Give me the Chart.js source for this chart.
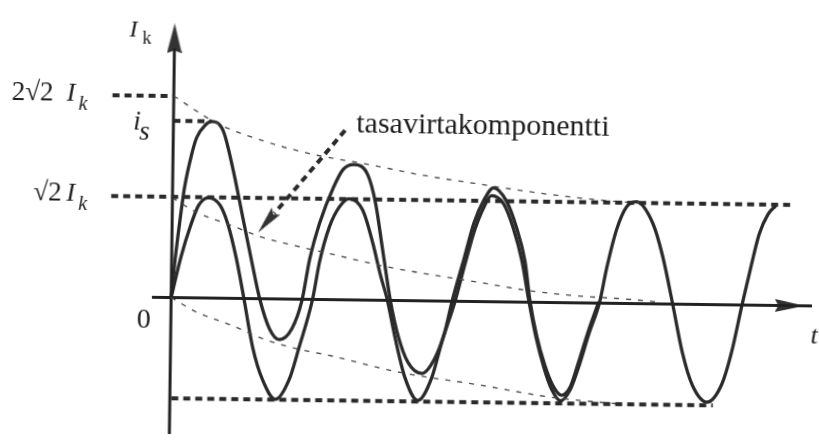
<!DOCTYPE html>
<html>
<head>
<meta charset="utf-8">
<script src="https://cdn.jsdelivr.net/npm/chart.js@4.4.1/dist/chart.umd.min.js"></script>
<style>
  html, body { margin: 0; padding: 0; background: #fff; overflow: hidden; }
  #wrap { width: 819px; height: 441px; overflow: hidden; }
  /* the printed figure sits slightly skewed on the page */
  #chart { display: block; transform-origin: 167px 300px; transform: rotate(0.75deg); }
</style>
</head>
<body>
<div id="wrap"><canvas id="chart" width="819" height="441"></canvas></div>
<script>
// time in ms (50 Hz), current in multiples of Ik

// symmetric short-circuit current
const symTime = [0, 1.30, 2.62, 3.69, 5.06, 6.73, 7.86, 9.03, 10.21, 11.54, 12.98, 14.81, 16.71, 18.03,
  19.86, 20.76, 22.07, 23.42, 24.78, 26.73, 28.17, 29.34, 30.35, 31.53, 32.98, 34.81, 36.70, 38.02,
  39.87, 41.18, 42.49, 43.69, 44.78, 46.45, 47.87, 49.17, 50.21, 51.24, 52.41, 53.55, 54.81, 56.17,
  57.37, 58.69, 60.14, 61.05, 62.36, 63.69, 65.06, 67.45, 68.89, 70.36, 71.83, 73.27, 75.37, 77.40,
  78.72, 80.15, 81.32, 82.40, 83.60, 84.66];
const symCurrent = [0, 0.57, 1.02, 1.30, 1.41, 1.30, 1.03, 0.58, 0, -0.69, -1.14, -1.41, -1.13, -0.68,
  0.01, 0.53, 1.02, 1.30, 1.42, 1.26, 0.81, 0.35, 0, -0.54, -1.09, -1.40, -1.08, -0.59,
  0.01, 0.53, 1.01, 1.32, 1.49, 1.38, 1.04, 0.57, 0.01, -0.48, -0.91, -1.22, -1.38, -1.22,
  -0.88, -0.43, 0.02, 0.49, 1.03, 1.35, 1.43, 1.13, 0.67, 0.01, -0.68, -1.13, -1.37, -1.12,
  -0.67, 0.02, 0.55, 1.00, 1.28, 1.40];

// asymmetric current (sine + decaying dc part)
const asymTime = [0, 0.45, 1.05, 1.68, 2.63, 3.29, 4.51, 5.33, 7.00, 8.45, 9.92, 11.39, 12.42, 13.85,
  15.25, 17.02, 18.35, 19.38, 20.69, 22.55, 23.90, 25.41, 27.36, 28.51, 29.57, 30.76, 31.93, 33.36,
  35.31, 37.08, 38.41, 39.45, 41.03, 42.34, 43.68, 45.04, 46.85, 48.28, 49.59, 50.35, 51.38, 52.54,
  53.68, 54.94, 56.17, 57.23, 58.55, 60.01];
const asymCurrent = [0, 0.50, 1.05, 1.55, 2.02, 2.25, 2.43, 2.48, 2.35, 1.81, 1.13, 0.45, 0, -0.42,
  -0.57, -0.41, -0.02, 0.57, 1.07, 1.57, 1.83, 1.90, 1.76, 1.36, 0.72, 0, -0.50, -0.87,
  -1.02, -0.81, -0.45, 0.01, 0.60, 1.10, 1.42, 1.60, 1.42, 1.06, 0.57, 0.02, -0.48, -0.88,
  -1.16, -1.30, -1.18, -0.85, -0.41, 0.02];

// envelopes and the dc component (thin dashed)
const upperTime = [0, 6.02, 12.54, 19.46, 27.75, 34.67, 42.96, 49.46, 55.40, 62.30, 66.0];
const upperCurrent = [2.83, 2.46, 2.22, 2.04, 1.90, 1.77, 1.65, 1.56, 1.49, 1.43, 1.41];
const dcTime = [0, 3.43, 8.14, 12.72, 18.25, 22.40, 30.29, 43.14, 49.64, 56.55, 62.48, 68.0];
const dcCurrent = [1.40, 1.20, 1.03, 0.86, 0.73, 0.64, 0.47, 0.27, 0.17, 0.10, 0.07, 0.03];
const lowerTime = [0, 3.61, 8.33, 12.90, 17.47, 22.59, 32.28, 43.34, 53.43, 58.95, 63.0];
const lowerCurrent = [0, -0.20, -0.37, -0.56, -0.69, -0.79, -1.01, -1.17, -1.33, -1.38, -1.41];

// reference levels: 2√2·Ik, is (peak of the asymmetric current), √2·Ik, -√2·Ik
const peakIs = Math.max(...asymCurrent);
const levelValue = [2 * Math.SQRT2, peakIs, Math.SQRT2, -Math.SQRT2];
const levelFrom = [-8.6, 0, -8.6, 0.2];
const levelTo = [0, asymTime[asymCurrent.indexOf(peakIs)], 86.9, 76.2];

const ink = '#2a2a2a';

// first serif face that is really installed
function pickSerif() {
  const g = document.createElement('canvas').getContext('2d');
  const probe = 'tasavirtakomponentti 2\u221A2 Ik';
  g.font = '30px monospace';
  const base = g.measureText(probe).width;
  const names = ['Liberation Serif', 'Times New Roman', 'Tinos', 'Nimbus Roman', 'DejaVu Serif',
    'Noto Serif', 'FreeSerif'];
  for (const n of names) {
    g.font = '30px "' + n + '", monospace';
    if (Math.abs(g.measureText(probe).width - base) > 0.5) return '"' + n + '", serif';
  }
  return 'serif';
}
const serif = pickSerif();

const pts = (ts, vs) => ts.map((t, i) => ({ x: t, y: vs[i] }));

function arrowHead(len, wid, notch) {
  const c = document.createElement('canvas');
  c.width = len; c.height = wid;
  const g = c.getContext('2d');
  g.fillStyle = '#333';
  g.beginPath();
  g.moveTo(len, wid / 2);
  g.lineTo(0, 0);
  g.lineTo(len * notch, wid / 2);
  g.lineTo(0, wid);
  g.closePath();
  g.fill();
  return c;
}

function thin(data) {
  return { data: data, borderColor: '#4a4a4a', borderWidth: 1.3, borderDash: [5, 7],
    cubicInterpolationMode: 'monotone', pointRadius: 0 };
}
function curve(data) {
  return { data: data, borderColor: ink, borderWidth: 3.3, cubicInterpolationMode: 'monotone',
    pointRadius: 0 };
}
function head(x, y, img, rot) {
  return { data: [{ x: x, y: y }], showLine: false, pointRadius: 6, pointStyle: img,
    pointRotation: rot };
}

const datasets = [];
levelValue.forEach((v, i) => {
  datasets.push({ data: [{ x: levelFrom[i], y: v }, { x: levelTo[i], y: v }],
    borderColor: ink, borderWidth: 4, borderDash: [7, 5], pointRadius: 0, tension: 0 });
});
datasets.push(thin(pts(upperTime, upperCurrent)));
datasets.push(thin(pts(dcTime, dcCurrent)));
datasets.push(thin(pts(lowerTime, lowerCurrent)));

// axes with arrow heads
datasets.push({ data: [{ x: -2.7, y: 0 }, { x: 95, y: 0 }], borderColor: '#222', borderWidth: 3,
  pointRadius: 0 });
datasets.push({ data: [{ x: 0, y: -2.2 }, { x: 0, y: 3.5 }], borderColor: '#222', borderWidth: 3,
  pointRadius: 0 });
datasets.push(head(86.8, 0, arrowHead(30, 13, 0.12), 0));
datasets.push(head(0, 3.64, arrowHead(30, 15, 0.1), -90));

datasets.push(curve(pts(asymTime, asymCurrent)));
datasets.push(curve(pts(symTime, symCurrent)));

// pointer to the dc component
datasets.push({ data: [{ x: 24.1, y: 2.38 }, { x: 14.33, y: 1.2 }], borderColor: ink, borderWidth: 4,
  borderDash: [7, 5], pointRadius: 0 });
datasets.push(head(13.31, 1.08, arrowHead(28, 11, 0.15), 129.2));

const labels = {
  id: 'labels',
  afterDraw(chart) {
    const g = chart.ctx;
    const ys = chart.scales.y;
    const put = (txt, font, x, y) => { g.font = font + ' ' + serif; g.fillText(txt, x, y); };
    const l2 = ys.getPixelForValue(levelValue[0]);
    const lis = ys.getPixelForValue(levelValue[1]);
    const l1 = ys.getPixelForValue(levelValue[2]);
    g.save();
    g.fillStyle = '#1c1c1c';
    g.textBaseline = 'alphabetic';
    // axis names
    put('I', 'italic 24px', 126, 37);
    put('k', '18px', 139, 44);
    put('t', 'italic 26px', 811, 335);
    put('0', '28px', 137, 328);
    // level labels
    put('2\u221A2', '27px', 9, l2 + 6);
    put('I', 'italic 26px', 64, l2 + 6);
    put('k', 'italic 20px', 76, l2 + 15);
    put('i', 'italic 27px', 131, lis + 9);
    put('s', 'italic 27px', 137, lis + 19);
    put('\u221A2', '27px', 32, l1 + 5);
    put('I', 'italic 26px', 65, l1 + 5);
    put('k', 'italic 20px', 77, l1 + 14);
    put('tasavirtakomponentti', '30px', 354, 130);
    g.restore();
  }
};

new Chart(document.getElementById('chart'), {
  type: 'line',
  data: { datasets: datasets },
  options: {
    responsive: false,
    animation: false,
    layout: { padding: 0 },
    plugins: { legend: { display: false }, tooltip: { enabled: false } },
    scales: {
      x: { type: 'linear', display: false, min: -23.03, max: 89.93 },
      y: { type: 'linear', display: false, min: -1.917, max: 4.079 }
    }
  },
  plugins: [labels]
});
</script>
</body>
</html>
